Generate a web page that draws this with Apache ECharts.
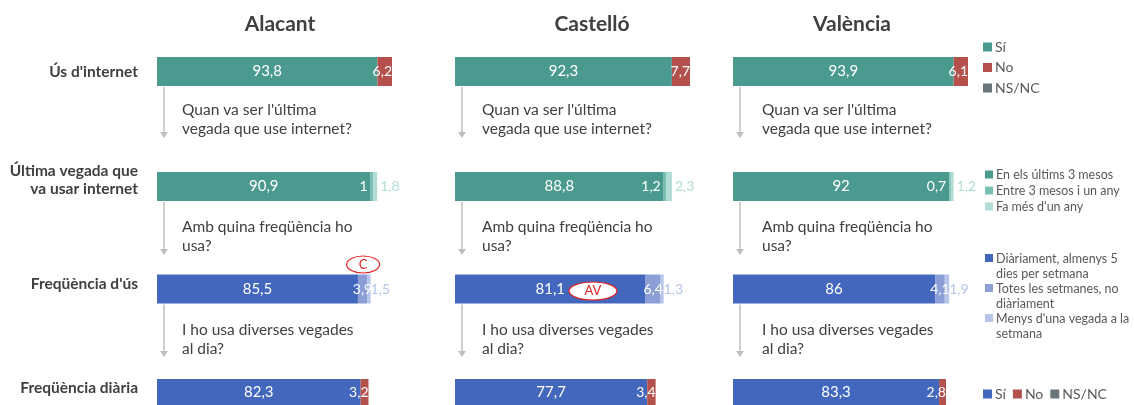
<!DOCTYPE html>
<html>
<head>
<meta charset="utf-8">
<script src="https://cdn.jsdelivr.net/npm/echarts@6/dist/echarts.min.js"></script>
<style>
html, body { margin: 0; padding: 0; background: #fff; }
#mainChart { width: 1134px; height: 405px; }
</style>
</head>
<body>
<div id="mainChart"></div>
<script>
// dades
var regions = ['Alacant', 'Castelló', 'València'];
var rowLabels = ["Ús d'internet", "Última vegada que\nva usar internet", "Freqüència d'ús", "Freqüència diària"];
var questions = ["Quan va ser l'última\nvegada que use internet?", "Amb quina freqüència ho\nusa?", "I ho usa diverses vegades\nal dia?"];

var usSi = [93.8, 92.3, 93.9];
var usNo = [6.2, 7.7, 6.1];
var usNsnc = [0, 0, 0];
var ult3mesos = [90.9, 88.8, 92];
var ultAny = [1, 1.2, 0.7];
var ultMesAny = [1.8, 2.3, 1.2];
var freqDiari = [85.5, 81.1, 86];
var freqSetm = [3.9, 6.4, 4.1];
var freqMenys = [1.5, 1.3, 1.9];
var diaSi = [82.3, 77.7, 83.3];
var diaNo = [3.2, 3.4, 2.8];
var diaNsnc = [0, 0, 0];

// colors
var cGreen = '#4b9a8f', cGreenMid = '#79bfb2', cGreenLight = '#b2ddd6';
var cBlue = '#4467be', cBlueMid = '#8b9fd6', cBlueLight = '#b7c5ea';
var cRed = '#b5514c', cGray = '#68757a';
var txt = '#404040', legTxt = '#595959';
var font = 'Lato';

// layout
var panelLeft = [157, 455, 733];
var barW = 235, barH = 29;
var rowTop = [57, 172, 274.5, 379];
var rowMax = [100, 100, 100, 95];      // l'última fila està a una altra escala
var labelLift = [0, 14, 10, 9];        // puja l'etiqueta de la fila

function fmt(p) {
	return p.value ? String(p.value).replace('.', ',') : '';
}

var white = { show: true, color: '#fff', fontFamily: font, fontSize: 15, formatter: fmt };
function lbl(extra) {
	return Object.assign({}, white, extra);
}

var rows = [
	[
		{ name: 'Sí|1', values: usSi, color: cGreen, label: white },
		{ name: 'No|1', values: usNo, color: cRed, label: lbl({ position: 'insideRight', distance: 0, fontSize: 14 }) },
		{ name: 'NS/NC|1', values: usNsnc, color: cGray, label: white }
	],
	[
		{ name: 'En els últims 3 mesos', values: ult3mesos, color: cGreen, label: white },
		{ name: 'Entre 3 mesos i un any', values: ultAny, color: cGreenMid, label: lbl({ position: 'left', distance: 3, fontSize: 14 }) },
		{ name: "Fa més d'un any", values: ultMesAny, color: cGreenLight, label: lbl({ position: 'right', distance: 3, fontSize: 14, color: cGreenLight }) }
	],
	[
		{ name: 'Diàriament, almenys 5 dies per setmana', values: freqDiari, color: cBlue, label: white },
		{ name: 'Totes les setmanes, no diàriament', values: freqSetm, color: cBlueMid, label: lbl({ fontSize: 14 }) },
		{ name: "Menys d'una vegada a la setmana", values: freqMenys, color: cBlueLight, label: lbl({ position: 'right', distance: 0, fontSize: 14, color: cBlueLight }) }
	],
	[
		{ name: 'Sí|4', values: diaSi, color: cBlue, label: white },
		{ name: 'No|4', values: diaNo, color: cRed, label: lbl({ position: 'insideRight', distance: 0, fontSize: 14 }) },
		{ name: 'NS/NC|4', values: diaNsnc, color: cGray, label: white }
	]
];

var legendNames = {
	'Diàriament, almenys 5 dies per setmana': 'Diàriament, almenys 5\ndies per setmana',
	'Totes les setmanes, no diàriament': 'Totes les setmanes, no\ndiàriament',
	"Menys d'una vegada a la setmana": "Menys d'una vegada a la\nsetmana"
};
function legendFmt(name) {
	return legendNames[name] || name.split('|')[0];
}

function rowLabelFmt(lift) {
	return function (value) {
		var s = value.split('\n').map(function (l) { return '{t|' + l + '}'; }).join('\n');
		return lift ? s + '\n{s| }' : s;
	};
}

var grids = [], xAxes = [], yAxes = [], series = [];
for (var r = 0; r < rows.length; r++) {
	for (var p = 0; p < regions.length; p++) {
		var k = grids.length;
		grids.push({ left: panelLeft[p], top: rowTop[r], width: barW, height: barH });
		xAxes.push({ gridIndex: k, type: 'value', min: 0, max: rowMax[r], show: false });
		yAxes.push({
			gridIndex: k, type: 'category', data: [rowLabels[r]],
			axisLine: { show: false }, axisTick: { show: false }, splitLine: { show: false },
			axisLabel: {
				show: p === 0, margin: 19, align: 'right',
				formatter: rowLabelFmt(labelLift[r]),
				rich: {
					t: { color: txt, fontFamily: font, fontWeight: 'bold', fontSize: 15.5, lineHeight: 18, align: 'right' },
					s: { fontSize: 1, lineHeight: labelLift[r] || 1 }
				}
			}
		});
		for (var s = 0; s < rows[r].length; s++) {
			var def = rows[r][s];
			series.push({
				name: def.name, type: 'bar', stack: 'g' + k,
				xAxisIndex: k, yAxisIndex: k,
				barCategoryGap: 0, barWidth: barH,
				itemStyle: { color: def.color },
				label: def.label,
				silent: true, animation: false,
				data: [def.values[p]]
			});
		}
	}
}

function legendData(r) {
	return rows[r].map(function (d) { return d.name; });
}

var option = {
	backgroundColor: '#fff',
	animation: false,
	title: regions.map(function (name, i) {
		return {
			text: name, left: [275, 587, 847][i], top: 9, textAlign: 'center',
			textStyle: { fontFamily: font, fontSize: 21, fontWeight: 'bold', color: txt }
		};
	}),
	legend: [
		{
			data: legendData(0), orient: 'vertical', left: 978, top: 35, itemGap: 6.5,
			itemWidth: 9, itemHeight: 9, icon: 'rect', formatter: legendFmt, selectedMode: false,
			textStyle: { fontFamily: font, fontSize: 14, color: legTxt, padding: [0, 0, 0, -2] }
		},
		{
			data: legendData(1), orient: 'vertical', left: 980, top: 163, itemGap: 3,
			itemWidth: 8, itemHeight: 8, icon: 'rect', formatter: legendFmt, selectedMode: false,
			textStyle: { fontFamily: font, fontSize: 12.5, color: legTxt, padding: [0, 0, 0, -2] }
		},
		{
			data: legendData(2), orient: 'vertical', left: 980, top: 246, itemGap: 0,
			itemWidth: 8, itemHeight: 30, icon: 'path://M0,3h8v8h-8zM0,0L0.01,0M0,30L0.01,30',
			formatter: legendFmt, selectedMode: false,
			textStyle: { fontFamily: font, fontSize: 12.5, lineHeight: 15, color: legTxt, padding: [0, 0, 0, -2] }
		},
		{
			data: legendData(3), orient: 'horizontal', left: 978, top: 382, itemGap: 7,
			itemWidth: 9, itemHeight: 9, icon: 'rect', formatter: legendFmt, selectedMode: false,
			textStyle: { fontFamily: font, fontSize: 14, color: legTxt, padding: [0, 0, 0, -2] }
		}
	],
	grid: grids,
	xAxis: xAxes,
	yAxis: yAxes,
	series: series
};

var myChart = echarts.init(document.getElementById('mainChart'));
myChart.setOption(option, true);

// preguntes, fletxes i anotacions
var arrowEnd = [138, 255, 357];
var qTop = [100, 217, 320];
var qLeft = [182, 482, 762];
var graphics = [];
for (var r = 0; r < 3; r++) {
	for (var p = 0; p < 3; p++) {
		var x = panelLeft[p] + 7;
		var y1 = rowTop[r] + barH + 1;
		var y2 = arrowEnd[r];
		graphics.push({ type: 'line', shape: { x1: x, y1: y1, x2: x, y2: y2 - 4 }, style: { stroke: '#bfbfbf', lineWidth: 1.5 }, silent: true });
		graphics.push({ type: 'polygon', shape: { points: [[x - 4, y2 - 6], [x + 4, y2 - 6], [x, y2]] }, style: { fill: '#bfbfbf' }, silent: true });
		graphics.push({
			type: 'text', left: qLeft[p], top: qTop[r], silent: true,
			style: { text: questions[r], fontFamily: font, fontSize: 15.5, lineHeight: 19, fill: txt }
		});
	}
}

var notes = [
	{ text: 'C', grid: 6, value: 87.7, dy: -24.5, rx: 16.5, ry: 8.5 },
	{ text: 'AV', grid: 7, value: 58.7, dy: 2, rx: 24, ry: 9 }
];
notes.forEach(function (n) {
	var cx = myChart.convertToPixel({ xAxisIndex: n.grid }, n.value);
	var cy = rowTop[2] + barH / 2 + n.dy;
	graphics.push({
		type: 'ellipse', shape: { cx: cx, cy: cy, rx: n.rx, ry: n.ry },
		style: { fill: '#fff', stroke: '#e02424', lineWidth: 1.2 }, silent: true, z: 100
	});
	graphics.push({
		type: 'text', x: cx, y: cy, silent: true, z: 101,
		style: { text: n.text, fontFamily: font, fontSize: 13, fill: '#e02424', align: 'center', verticalAlign: 'middle' }
	});
});
myChart.setOption({ graphic: graphics });
</script>
</body>
</html>
